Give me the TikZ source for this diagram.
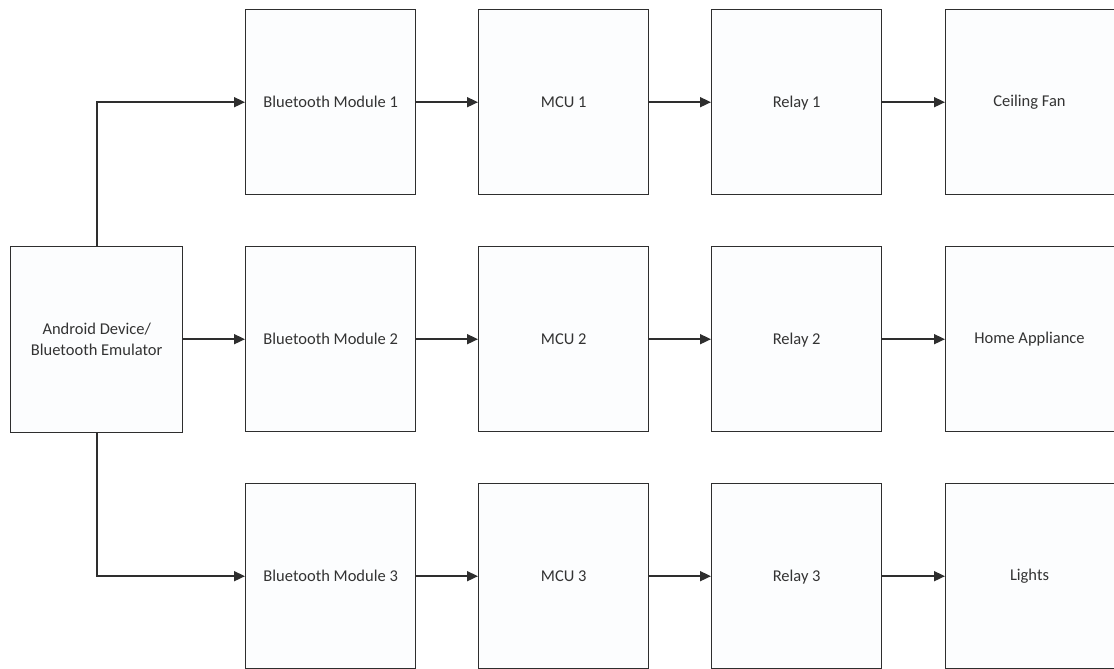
\documentclass[tikz,border=0pt]{standalone}
\usepackage{fontspec}
\setmainfont{Carlito}
\usetikzlibrary{arrows.meta,positioning}
\definecolor{edge}{HTML}{2E2E2E}
\definecolor{boxfill}{HTML}{FCFDFE}
\definecolor{txt}{HTML}{333333}
\begin{document}
\begin{tikzpicture}[x=1pt,y=-1pt,
  block/.style={draw=edge,line width=1.4pt,fill=boxfill,minimum width=170pt,minimum height=185pt,
    inner sep=0pt,align=center,text=txt,font=\fontsize{16.5}{21}\selectfont,anchor=north west},
  label/.style={text=txt,font=\fontsize{16.5}{20}\selectfont,text height=11pt,text depth=4pt,inner sep=0pt,yshift=-1.5pt},
  link/.style={draw=edge,line width=1.6pt,-{Triangle[length=11pt,width=10pt]}}]
\useasboundingbox (0,0) rectangle (1114,669);
\begin{scope}
\clip (0,0) rectangle (1114,669);
% source
\node[block,minimum width=172pt,minimum height=186pt] (src) at (10,246) {Android Device/\\Bluetooth Emulator};
% three parallel chains
\foreach \r/\y/\load in {1/9/Ceiling Fan,2/246/Home Appliance,3/483/Lights}{
  \node[block] (bt\r) at (245,\y) {};
  \node[label] at (bt\r.center) {Bluetooth Module \r};
  \node[block] (mcu\r) at (478,\y) {};
  \node[label] at (mcu\r.center) {MCU \r};
  \node[block] (rel\r) at (711,\y) {};
  \node[label] at (rel\r.center) {Relay \r};
  \node[block,minimum width=200pt] (out\r) at (945,\y) {};
  \node[label] at (1029.5,\y+92.5) {\load};
  \draw[link] (bt\r) -- (mcu\r);
  \draw[link] (mcu\r) -- (rel\r);
  \draw[link] (rel\r.east) -- (out\r.west);
}
\draw[link] (src.north) |- (bt1.west);
\draw[link] (src.east |- bt2.west) -- (bt2.west);
\draw[link] (src.south) |- (bt3.west);
\end{scope}
\end{tikzpicture}
\end{document}
